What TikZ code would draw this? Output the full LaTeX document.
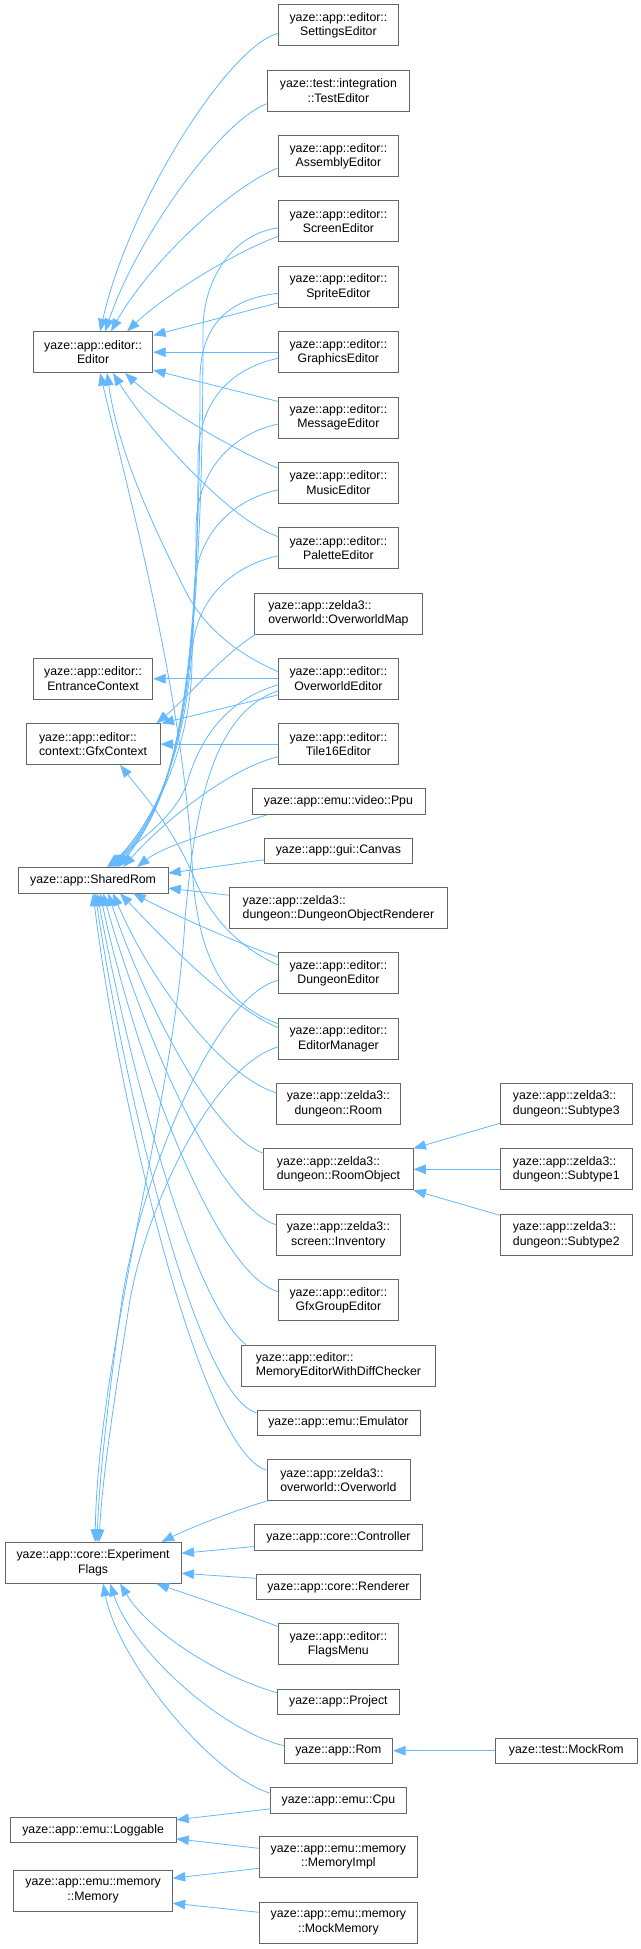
\documentclass[tikz,border=0pt]{standalone}
\usepackage{fontspec}
\setmainfont{Liberation Sans}
\usetikzlibrary{arrows.meta,calc}
\definecolor{edgeblue}{HTML}{63B8FF}
\definecolor{boxgray}{HTML}{666666}
\tikzset{
  box/.style={draw=boxgray, fill=white, line width=0.8pt, inner sep=0pt,
    font=\fontsize{12.3}{14.5}\selectfont, align=center, minimum height=41},
  boxl/.style={box, align=left},
  box1/.style={box, minimum height=25.6},
  edge/.style={draw=edgeblue, line width=0.8pt, -{Triangle[length=12.5pt,width=9.5pt]}},
}
\begin{document}
\begin{tikzpicture}[x=1pt,y=-1pt]
\useasboundingbox (0,0) rectangle (640,1949);
% ---- nodes ----
\node[box, minimum width=119.3] (settings) at (338.4,25.3) {yaze::app::editor::\\SettingsEditor};
\node[box, minimum width=142.6] (test) at (338.4,90.8) {yaze::test::integration\\::TestEditor};
\node[box, minimum width=119.3] (assembly) at (338.4,156.2) {yaze::app::editor::\\AssemblyEditor};
\node[box, minimum width=119.3] (screen) at (338.4,221.3) {yaze::app::editor::\\ScreenEditor};
\node[box, minimum width=119.3] (sprite) at (338.4,286.8) {yaze::app::editor::\\SpriteEditor};
\node[box, minimum width=119.3] (editor) at (93.1,352.2) {yaze::app::editor::\\Editor};
\node[box, minimum width=119.3] (graphics) at (338.4,352.2) {yaze::app::editor::\\GraphicsEditor};
\node[box, minimum width=119.3] (message) at (338.4,417.5) {yaze::app::editor::\\MessageEditor};
\node[box, minimum width=119.3] (music) at (338.4,482.8) {yaze::app::editor::\\MusicEditor};
\node[box, minimum width=119.3] (palette) at (338.4,548.2) {yaze::app::editor::\\PaletteEditor};
\node[boxl, minimum width=168.5] (owmap) at (338.4,613.5) {yaze::app::zelda3::\\overworld::OverworldMap};
\node[box, minimum width=119.3] (entrance) at (93.1,678.8) {yaze::app::editor::\\EntranceContext};
\node[box, minimum width=119.3] (oweditor) at (338.4,678.8) {yaze::app::editor::\\OverworldEditor};
\node[boxl, minimum width=134] (gfxctx) at (93.1,744.2) {yaze::app::editor::\\context::GfxContext};
\node[box, minimum width=119.3] (tile16) at (338.4,744.2) {yaze::app::editor::\\Tile16Editor};
\node[box1, minimum width=173] (ppu) at (338.4,801.5) {yaze::app::emu::video::Ppu};
\node[box1, minimum width=148] (canvas) at (338.4,850.8) {yaze::app::gui::Canvas};
\node[box1, minimum width=149.6] (sharedrom) at (93.1,880.2) {yaze::app::SharedRom};
\node[boxl, minimum width=218.5] (dor) at (338.4,908.2) {yaze::app::zelda3::\\dungeon::DungeonObjectRenderer};
\node[box, minimum width=119.3] (dungeon) at (338.4,973.3) {yaze::app::editor::\\DungeonEditor};
\node[box, minimum width=119.3] (editormgr) at (338.4,1038.8) {yaze::app::editor::\\EditorManager};
\node[box, minimum width=123.8] (room) at (338.4,1103.8) {yaze::app::zelda3::\\dungeon::Room};
\node[boxl, minimum width=132] (sub3) at (566.3,1103.8) {yaze::app::zelda3::\\dungeon::Subtype3};
\node[boxl, minimum width=149.2] (roomobj) at (338.4,1169.3) {yaze::app::zelda3::\\dungeon::RoomObject};
\node[boxl, minimum width=132] (sub1) at (566.3,1169.3) {yaze::app::zelda3::\\dungeon::Subtype1};
\node[box, minimum width=123.8] (inventory) at (338.4,1234.8) {yaze::app::zelda3::\\screen::Inventory};
\node[boxl, minimum width=132] (sub2) at (566.3,1234.8) {yaze::app::zelda3::\\dungeon::Subtype2};
\node[box, minimum width=119.3] (gfxgroup) at (338.4,1300.2) {yaze::app::editor::\\GfxGroupEditor};
\node[boxl, minimum width=194.2] (mewdc) at (338.4,1365.5) {yaze::app::editor::\\MemoryEditorWithDiffChecker};
\node[box1, minimum width=163] (emulator) at (338.4,1422.8) {yaze::app::emu::Emulator};
\node[boxl, minimum width=143] (overworld) at (338.4,1480.2) {yaze::app::zelda3::\\overworld::Overworld};
\node[box1, minimum width=167.5] (controller) at (338.4,1537.5) {yaze::app::core::Controller};
\node[box, minimum width=176] (flags) at (93.1,1562.8) {yaze::app::core::Experiment\\Flags};
\node[box1, minimum width=164.4] (renderer) at (338.4,1586.8) {yaze::app::core::Renderer};
\node[box, minimum width=119.3] (flagsmenu) at (338.4,1644.2) {yaze::app::editor::\\FlagsMenu};
\node[box1, minimum width=122] (project) at (338.4,1701.7) {yaze::app::Project};
\node[box1, minimum width=108.6] (rom) at (338.4,1750.7) {yaze::app::Rom};
\node[box1, minimum width=141.4] (mockrom) at (566.3,1750.7) {yaze::test::MockRom};
\node[box1, minimum width=135.2] (cpu) at (338.4,1800.3) {yaze::app::emu::Cpu};
\node[box1, minimum width=165.6] (loggable) at (93.1,1829.8) {yaze::app::emu::Loggable};
\node[box, minimum width=158.2] (memimpl) at (338.4,1857.3) {yaze::app::emu::memory\\::MemoryImpl};
\node[box, minimum width=158.5] (memory) at (93.1,1890.7) {yaze::app::emu::memory\\::Memory};
\node[box, minimum width=158.2] (mockmem) at (338.4,1922.8) {yaze::app::emu::memory\\::MockMemory};
% ---- edges to Editor ----
\draw[edge] ($(settings.west)+(0,8)$) .. controls (230,45) and (130,200) .. ($(editor.north)+(7,0)$);
\draw[edge] ($(test.west)+(0,13)$) .. controls (222,120) and (138,235) .. ($(editor.north)+(12,0)$);
\draw[edge] ($(assembly.west)+(0,11.5)$) .. controls (228,188) and (148,265) .. ($(editor.north)+(18,0)$);
\draw[edge] ($(screen.west)+(0,15)$) .. controls (235,252) and (165,295) .. ($(editor.north)+(34,0)$);
\draw[edge] ($(sprite.west)+(0,16)$) -- ($(editor.north east)+(0,4)$);
\draw[edge] (graphics.west) -- (editor.east);
\draw[edge] ($(message.west)+(0,-16)$) -- ($(editor.south east)+(0,-3)$);
\draw[edge] ($(music.west)+(0,-14.5)$) .. controls (238,452) and (165,410) .. ($(editor.south)+(32,0)$);
\draw[edge] ($(palette.west)+(0,-11.5)$) .. controls (232,522) and (148,430) .. ($(editor.south)+(20,0)$);
\draw[edge] ($(oweditor.west)+(0,-7)$) .. controls (240,655) and (205,630) .. (185,590) .. controls (150,520) and (118,450) .. ($(editor.south)+(14,0)$);
\draw[edge] ($(editormgr.west)+(0,-15)$) .. controls (225,1005) and (200,960) .. (193,880) .. controls (185,700) and (130,500) .. ($(editor.south)+(7,0)$);
% ---- EntranceContext / GfxContext ----
\draw[edge] (oweditor.west) -- (entrance.east);
\draw[edge] ($(oweditor.west)+(0,16)$) -- ($(gfxctx.north east)+(1,0)$);
\draw[edge] ($(owmap.south west)+(2,0)$) .. controls (222,655) and (190,695) .. ($(gfxctx.north east)+(-4,0)$);
\draw[edge] (tile16.west) -- (gfxctx.east);
\draw[edge] ($(dungeon.west)+(0,-8)$) .. controls (235,945) and (210,915) .. (195,880) .. controls (175,830) and (140,790) .. ($(gfxctx.south)+(27,0)$);
% ---- SharedRom from above ----
\draw[edge] ($(screen.west)+(0,6.5)$) .. controls (232,234) and (203,280) .. (203,330) .. controls (203,720) and (170,800) .. ($(sharedrom.north)+(26,0)$);
\draw[edge] ($(sprite.west)+(0,6.5)$) .. controls (234,298) and (200,320) .. (200,380) .. controls (200,725) and (168,805) .. ($(sharedrom.north)+(24,0)$);
\draw[edge] ($(graphics.west)+(0,6)$) .. controls (232,368) and (198,400) .. (198,460) .. controls (198,730) and (165,808) .. ($(sharedrom.north)+(22,0)$);
\draw[edge] ($(message.west)+(0,6.5)$) .. controls (232,434) and (196,470) .. (196,530) .. controls (196,735) and (162,812) .. ($(sharedrom.north)+(20,0)$);
\draw[edge] ($(music.west)+(0,7)$) .. controls (232,500) and (194,535) .. (194,595) .. controls (194,740) and (158,815) .. ($(sharedrom.north)+(18,0)$);
\draw[edge] ($(palette.west)+(0,7.5)$) .. controls (232,566) and (192,600) .. (192,660) .. controls (192,745) and (155,820) .. ($(sharedrom.north)+(16,0)$);
\draw[edge] ($(oweditor.west)+(0,6)$) .. controls (225,700) and (200,740) .. (188,780) .. controls (178,815) and (140,840) .. ($(sharedrom.north)+(14,0)$);
\draw[edge] ($(tile16.west)+(0,12.5)$) .. controls (230,768) and (165,820) .. ($(sharedrom.north)+(30,0)$);
\draw[edge] ($(ppu.south west)+(16,0)$) .. controls (220,830) and (165,845) .. ($(sharedrom.north)+(44,0)$);
\draw[edge] ($(canvas.west)+(0,9)$) -- ($(sharedrom.east)+(0,-7)$);
\draw[edge] ($(dor.west)+(0,-13)$) -- ($(sharedrom.east)+(0,8)$);
% ---- SharedRom from below ----
\draw[edge] ($(dungeon.west)+(0,-16)$) .. controls (230,940) and (175,915) .. ($(sharedrom.south)+(40,0)$);
\draw[edge] ($(editormgr.west)+(0,-11)$) .. controls (225,1005) and (160,935) .. ($(sharedrom.south)+(27,0)$);
\draw[edge] ($(room.west)+(0,-11)$) .. controls (220,1075) and (150,980) .. ($(sharedrom.south)+(20,0)$);
\draw[edge] ($(roomobj.west)+(0,-16)$) .. controls (210,1135) and (140,990) .. ($(sharedrom.south)+(15,0)$);
\draw[edge] ($(inventory.west)+(0,-10)$) .. controls (215,1205) and (138,1020) .. ($(sharedrom.south)+(10,0)$);
\draw[edge] ($(gfxgroup.west)+(0,-8.5)$) .. controls (215,1275) and (133,1050) .. ($(sharedrom.south)+(7,0)$);
\draw[edge] ($(mewdc.north west)+(5,0)$) .. controls (190,1300) and (128,1060) .. ($(sharedrom.south)+(4,0)$);
\draw[edge] ($(emulator.west)+(0,-10)$) .. controls (195,1395) and (123,1080) .. ($(sharedrom.south)+(2,0)$);
\draw[edge] ($(overworld.west)+(0,-10)$) .. controls (200,1450) and (118,1100) .. (sharedrom.south);
% ---- ExperimentFlags ----
\draw[edge] ($(oweditor.west)+(0,12)$) .. controls (215,712) and (195,800) .. (185,920) .. controls (175,1100) and (98,1350) .. ($(flags.north)+(2,0)$);
\draw[edge] ($(dungeon.west)+(0,7)$) .. controls (215,995) and (140,1180) .. (122,1300) .. controls (108,1400) and (99,1480) .. ($(flags.north)+(4,0)$);
\draw[edge] ($(editormgr.west)+(0,8)$) .. controls (215,1065) and (148,1200) .. (130,1300) .. controls (114,1400) and (102,1480) .. ($(flags.north)+(6,0)$);
\draw[edge] (overworld.south west) .. controls (230,1512) and (190,1528) .. ($(flags.north east)+(-20,0)$);
\draw[edge] ($(controller.west)+(0,9)$) -- ($(flags.east)+(0,-9.5)$);
\draw[edge] ($(renderer.west)+(0,-8.5)$) -- ($(flags.east)+(0,10.5)$);
\draw[edge] ($(flagsmenu.west)+(0,-17.5)$) .. controls (235,1610) and (190,1595) .. ($(flags.south east)+(-25,0)$);
\draw[edge] ($(project.west)+(0,-9)$) .. controls (215,1675) and (148,1630) .. ($(flags.south)+(27,0)$);
\draw[edge] ($(rom.west)+(0,-5)$) .. controls (220,1730) and (132,1650) .. ($(flags.south)+(17,0)$);
\draw[edge] ($(cpu.west)+(0,-7)$) .. controls (210,1775) and (118,1660) .. ($(flags.south)+(10,0)$);
% ---- Loggable / Memory ----
\draw[edge] ($(cpu.west)+(0,8.5)$) -- ($(loggable.east)+(0,-10)$);
\draw[edge] ($(memimpl.west)+(0,-9)$) -- ($(loggable.east)+(0,9)$);
\draw[edge] ($(memimpl.west)+(0,11)$) -- ($(memory.east)+(0,-12.5)$);
\draw[edge] ($(mockmem.west)+(0,-10.5)$) -- ($(memory.east)+(0,12.5)$);
% ---- RoomObject / Rom ----
\draw[edge] ($(sub3.west)+(0,19.5)$) -- (roomobj.north east);
\draw[edge] (sub1.west) -- (roomobj.east);
\draw[edge] ($(sub2.west)+(0,-19.5)$) -- (roomobj.south east);
\draw[edge] (mockrom.west) -- (rom.east);
\end{tikzpicture}
\end{document}
